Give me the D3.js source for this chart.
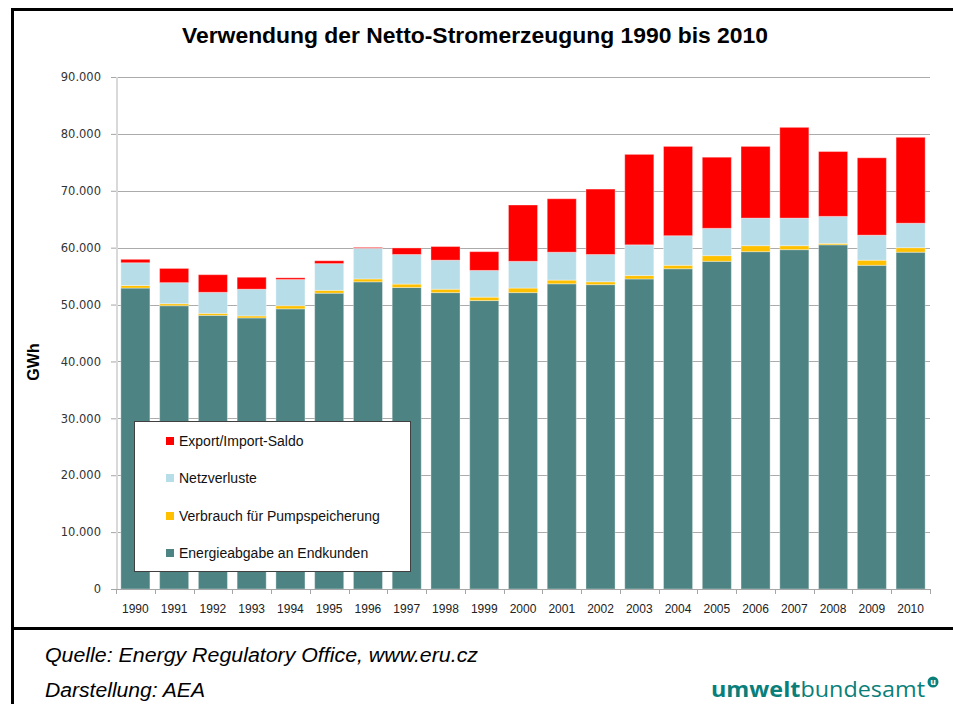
<!DOCTYPE html>
<html>
<head>
<meta charset="utf-8">
<script src="https://cdn.jsdelivr.net/npm/d3@7"></script>
<style>
  html, body { margin: 0; padding: 0; background: #fff; }
  svg { display: block; }
</style>
</head>
<body>
<script>
const years = ["1990","1991","1992","1993","1994","1995","1996","1997","1998","1999","2000","2001","2002","2003","2004","2005","2006","2007","2008","2009","2010"];
const endkunden = [52900,49800,48100,47650,49250,52000,54000,53000,52100,50700,52100,53650,53500,54500,56300,57600,59300,59650,60500,56900,59200];
const pump      = [450,350,350,350,550,500,500,600,600,600,800,650,500,600,600,1000,1050,700,250,900,800];
const netz      = [4000,3700,3700,4700,4600,4700,5400,5200,5100,4700,4700,4900,4800,5400,5200,4800,4850,4850,4750,4400,4300];
const saldo     = [600,2500,3100,2100,300,500,150,1150,2400,3300,9900,9400,11500,15900,15700,12500,12600,15950,11400,13600,15100];
const seriesNames = ["Energieabgabe an Endkunden","Verbrauch für Pumpspeicherung","Netzverluste","Export/Import-Saldo"];
const seriesColors = ["#4d8483","#ffc000","#b7dde8","#ff0000"];
const yTicks = [0,10000,20000,30000,40000,50000,60000,70000,80000,90000];
const titleText = "Verwendung der Netto-Stromerzeugung 1990 bis 2010";
const yLabel = "GWh";
const source1 = "Quelle: Energy Regulatory Office, www.eru.cz";
const source2 = "Darstellung: AEA";

const W = 953, H = 704;
const svg = d3.select("body").append("svg").attr("width", W).attr("height", H);
svg.append("rect").attr("width", W).attr("height", H).attr("fill", "#fff");

const x = d3.scaleBand().domain(years).range([116, 930]).paddingInner(0.25).paddingOuter(0.125);
const y = d3.scaleLinear().domain([0, 90000]).range([589, 77]);

// frame
svg.append("line").attr("x1", 11).attr("x2", W).attr("y1", 9.5).attr("y2", 9.5).attr("stroke", "#000").attr("stroke-width", 3);
svg.append("line").attr("x1", 12.5).attr("x2", 12.5).attr("y1", 8).attr("y2", H).attr("stroke", "#000").attr("stroke-width", 3);
svg.append("line").attr("x1", 11).attr("x2", W).attr("y1", 628.5).attr("y2", 628.5).attr("stroke", "#000").attr("stroke-width", 3);

// title
svg.append("text").attr("x", 475).attr("y", 43).attr("text-anchor", "middle")
  .attr("font-family", "Liberation Sans, Arial, sans-serif").attr("font-weight", "bold")
  .attr("font-size", 22).attr("fill", "#000")
  .attr("textLength", 586).attr("lengthAdjust", "spacingAndGlyphs").text(titleText);

// gridlines
const yAxis = d3.axisLeft(y).tickValues(yTicks).tickSize(5).tickPadding(10)
  .tickFormat(d => d3.format(",")(d).replace(/,/g, "."));
const gy = svg.append("g").attr("transform", "translate(116,0)").call(yAxis);
gy.select(".domain").remove();
gy.selectAll(".tick line").attr("stroke", "#a6a6a6");
gy.selectAll(".tick text").attr("font-family", "DejaVu Sans, Verdana, sans-serif").attr("font-size", 11.5).attr("fill", "#333");
svg.append("g").selectAll("line").data(yTicks.filter(d => d > 0)).join("line")
  .attr("x1", 116).attr("x2", 930).attr("y1", d => Math.round(y(d)) + 0.5).attr("y2", d => Math.round(y(d)) + 0.5)
  .attr("stroke", "#ababab").attr("stroke-width", 1);
svg.append("line").attr("x1", 117).attr("x2", 117).attr("y1", 77).attr("y2", 589).attr("stroke", "#d9d9d9").attr("stroke-width", 2);

// stacked bars
const rows = years.map((yr, i) => ({ year: yr, s0: endkunden[i], s1: pump[i], s2: netz[i], s3: saldo[i] }));
const stack = d3.stack().keys(["s0","s1","s2","s3"]);
const stacked = stack(rows);
svg.append("g").selectAll("g").data(stacked).join("g")
  .attr("fill", (d, i) => seriesColors[i])
  .selectAll("rect").data(d => d).join("rect")
  .attr("x", d => x(d.data.year))
  .attr("width", x.bandwidth())
  .attr("y", d => y(d[1]))
  .attr("height", d => y(d[0]) - y(d[1]))
  .attr("stroke", "#ffffff").attr("stroke-opacity", 0.35).attr("stroke-width", 1);

// x axis
const gx = svg.append("g").attr("transform", "translate(0,589)");
gx.append("line").attr("x1", 116).attr("x2", 930).attr("y1", 0.5).attr("y2", 0.5).attr("stroke", "#a6a6a6");
gx.selectAll("line.tk").data(d3.range(years.length + 1)).join("line").attr("class", "tk")
  .attr("x1", i => Math.round(116 + i * x.step()) + 0.5).attr("x2", i => Math.round(116 + i * x.step()) + 0.5)
  .attr("y1", 0).attr("y2", 5).attr("stroke", "#a6a6a6");
gx.selectAll("text").data(years).join("text")
  .attr("x", d => x(d) + x.bandwidth() / 2).attr("y", 24).attr("text-anchor", "middle")
  .attr("font-family", "Liberation Sans, Arial, sans-serif").attr("font-size", 12).attr("fill", "#222")
  .text(d => d);

// y label
svg.append("text").attr("transform", "translate(39,362) rotate(-90)").attr("text-anchor", "middle")
  .attr("font-family", "Liberation Sans, Arial, sans-serif").attr("font-weight", "bold").attr("font-size", 16)
  .attr("fill", "#000").text(yLabel);

// legend
const lg = svg.append("g");
lg.append("rect").attr("x", 134.5).attr("y", 421.5).attr("width", 276).attr("height", 150)
  .attr("fill", "#fff").attr("stroke", "#404040").attr("stroke-width", 1);
const legOrder = [3, 2, 1, 0];
const legY = [441, 478, 516, 553];
legOrder.forEach((si, k) => {
  lg.append("rect").attr("x", 166).attr("y", legY[k] - 4).attr("width", 8).attr("height", 8).attr("fill", seriesColors[si]);
  lg.append("text").attr("x", 179).attr("y", legY[k] + 5)
    .attr("font-family", "Liberation Sans, Arial, sans-serif").attr("font-size", 14).attr("fill", "#111")
    .text(seriesNames[si]);
});

// source
svg.append("text").attr("x", 45).attr("y", 662).attr("font-family", "Liberation Sans, Arial, sans-serif")
  .attr("font-style", "italic").attr("font-size", 20).attr("fill", "#000")
  .attr("textLength", 433).attr("lengthAdjust", "spacingAndGlyphs").text(source1);
svg.append("text").attr("x", 45).attr("y", 697).attr("font-family", "Liberation Sans, Arial, sans-serif")
  .attr("font-style", "italic").attr("font-size", 20).attr("fill", "#000")
  .attr("textLength", 160).attr("lengthAdjust", "spacingAndGlyphs").text(source2);

// logo
const logo = svg.append("text").attr("x", 711).attr("y", 697).attr("font-family", "Open Sans, DejaVu Sans, sans-serif")
  .attr("font-size", 21).attr("fill", "#0a7f7a").attr("textLength", 214).attr("lengthAdjust", "spacingAndGlyphs");
logo.append("tspan").attr("font-weight", "bold").text("umwelt");
logo.append("tspan").text("bundesamt");
svg.append("circle").attr("cx", 933).attr("cy", 682).attr("r", 5.5).attr("fill", "#0a7f7a");
svg.append("text").attr("x", 933).attr("y", 685).attr("text-anchor", "middle").attr("font-family", "DejaVu Sans, sans-serif")
  .attr("font-weight", "bold").attr("font-size", 8).attr("fill", "#fff").text("u");
</script>
</body>
</html>
